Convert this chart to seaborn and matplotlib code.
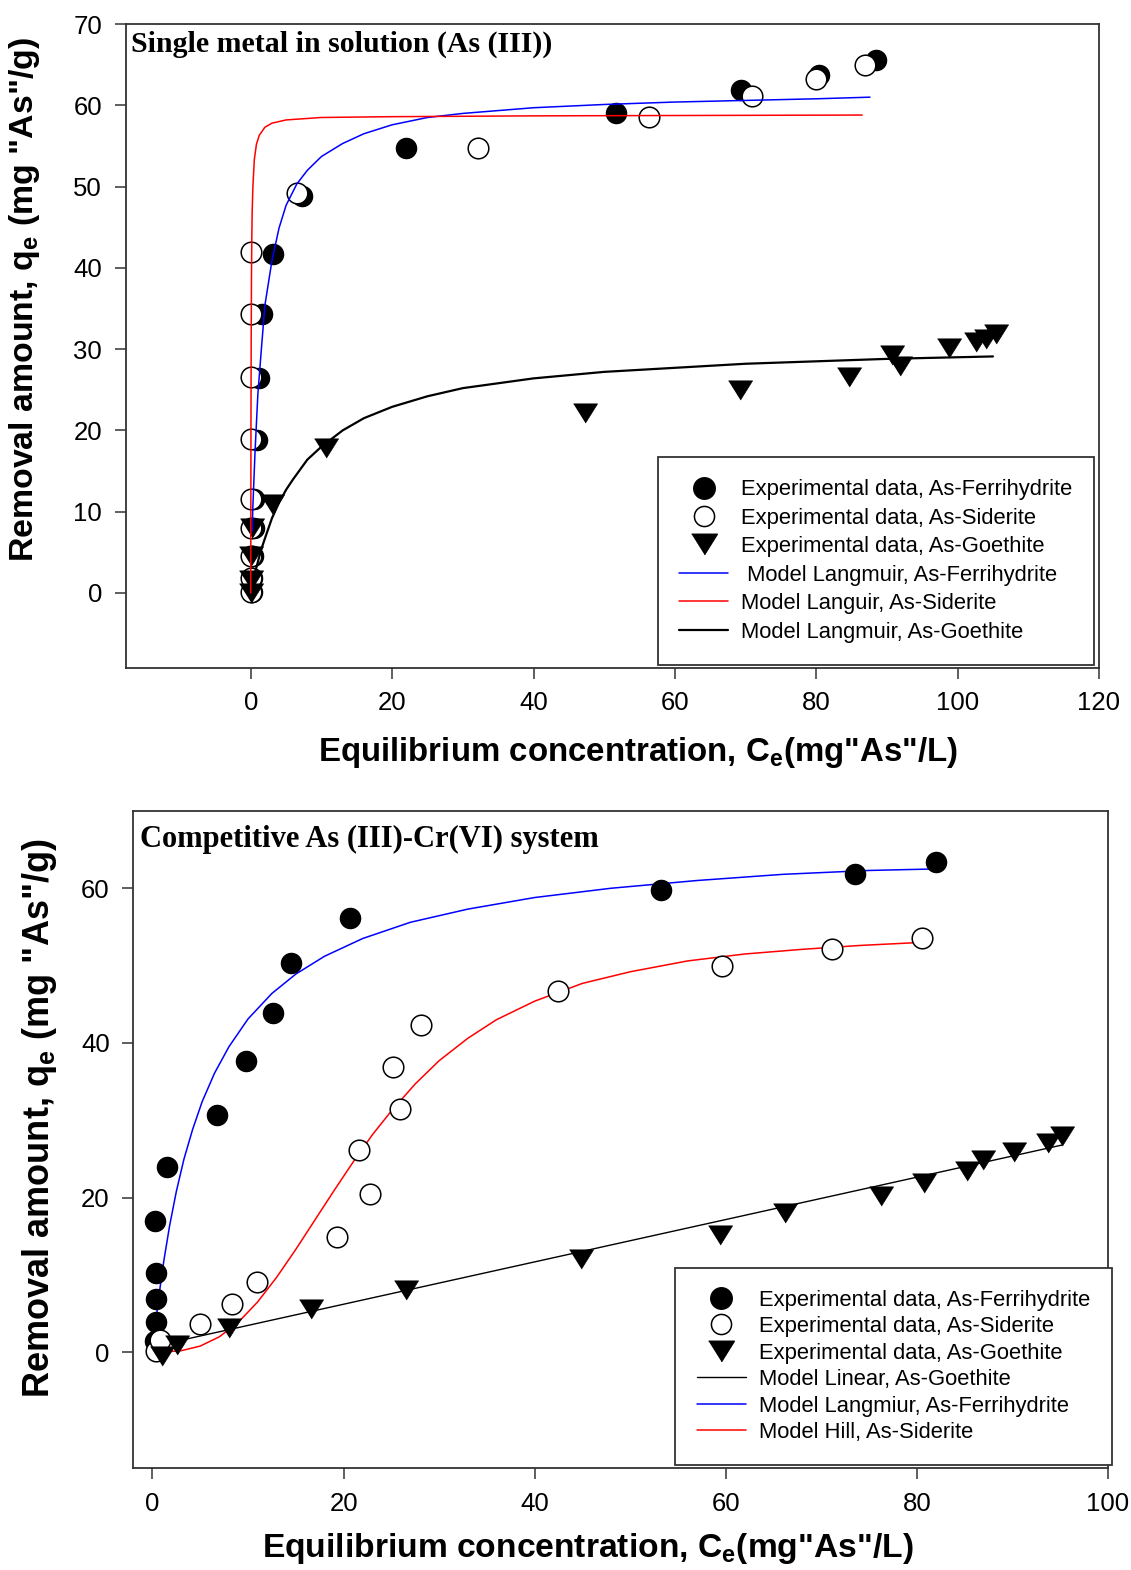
import numpy as np
import pandas as pd
import matplotlib
matplotlib.use("Agg")
import matplotlib.pyplot as plt
import seaborn as sns
from matplotlib.lines import Line2D

# ---------------- Top panel: single metal (As(III)) ----------------
top_ferri_x = [0.2, 0.2, 0.3, 0.4, 0.5, 0.9, 1.1, 1.6, 3.1, 7.3, 21.9, 51.7, 69.3, 80.4, 88.4]
top_ferri_y = [0.1, 1.8, 4.6, 8.0, 11.5, 18.8, 26.5, 34.3, 41.7, 48.8, 54.8, 59.0, 61.9, 63.7, 65.6]
top_sider_x = [0.0, 0.0, 0.0, 0.0, 0.0, 0.0, 0.0, 0.0, 0.0, 6.5, 32.1, 56.4, 70.9, 80.0, 86.9]
top_sider_y = [0.1, 1.8, 4.6, 8.0, 11.5, 18.9, 26.6, 34.3, 42.0, 49.2, 54.8, 58.6, 61.2, 63.2, 65.0]
top_goe_x = [0.1, 0.1, 0.1, 0.2, 3.0, 10.7, 47.3, 69.2, 84.7, 90.7, 91.8, 98.8, 102.6, 104.0, 105.4]
top_goe_y = [0.0, 1.6, 4.6, 8.0, 10.9, 17.8, 22.1, 25.0, 26.6, 29.3, 27.9, 30.1, 30.9, 31.3, 31.8]

# model curves
top_blue_x = [0.2, 0.3, 0.6, 1.0, 1.5, 2.0, 3.0, 4.0, 5.0, 6.5, 8.0, 10.0, 13.0, 16.0, 20.0, 25.0, 30.0, 40.0, 50.0, 60.0, 70.0, 80.0, 87.6]
top_blue_y = [7.6, 10.7, 17.3, 24.4, 30.0, 35.4, 40.9, 44.9, 47.7, 50.3, 52.0, 53.7, 55.3, 56.5, 57.6, 58.5, 59.0, 59.7, 60.1, 60.4, 60.6, 60.8, 61.0]
top_red_x = [0.0, 0.01, 0.03, 0.06, 0.1, 0.15, 0.2, 0.3, 0.5, 0.8, 1.2, 2.0, 3.0, 5.0, 10.0, 20.0, 40.0, 86.5]
top_red_y = [0.0, 9.4, 21.2, 31.3, 38.8, 43.9, 46.9, 50.0, 53.3, 55.2, 56.3, 57.3, 57.8, 58.2, 58.5, 58.6, 58.7, 58.8]
top_black_x = [0.3, 0.6, 1.0, 1.5, 2.0, 3.0, 4.0, 5.0, 6.0, 8.0, 10.0, 13.0, 16.0, 20.0, 25.0, 30.0, 40.0, 50.0, 60.0, 70.0, 80.0, 90.0, 105.0]
top_black_y = [1.3, 2.5, 3.8, 5.4, 6.7, 9.2, 11.1, 12.7, 14.0, 16.4, 18.0, 20.0, 21.5, 22.9, 24.2, 25.2, 26.4, 27.2, 27.7, 28.2, 28.5, 28.8, 29.1]

# ---------------- Bottom panel: competitive As(III)-Cr(VI) ----------------
bot_ferri_x = [0.3, 0.4, 0.4, 0.4, 0.3, 1.5, 6.8, 9.8, 12.6, 14.5, 20.7, 53.2, 73.5, 82.0]
bot_ferri_y = [1.5, 3.9, 6.9, 10.2, 17.0, 24.0, 30.7, 37.6, 43.9, 50.3, 56.2, 59.8, 61.9, 63.4]
bot_sider_x = [0.4, 0.8, 5.0, 8.3, 10.9, 19.3, 22.8, 21.6, 25.9, 25.2, 28.1, 42.4, 59.6, 71.1, 80.5]
bot_sider_y = [0.1, 1.6, 3.6, 6.3, 9.1, 14.9, 20.4, 26.1, 31.5, 36.9, 42.3, 46.7, 49.9, 52.1, 53.6]
bot_goe_x = [1.0, 2.6, 8.0, 16.6, 26.5, 44.8, 59.4, 66.2, 76.2, 80.7, 85.2, 86.9, 90.2, 93.7, 95.2]
bot_goe_y = [-0.5, 1.0, 3.2, 5.6, 8.0, 12.0, 15.2, 18.0, 20.2, 21.9, 23.4, 24.9, 25.9, 27.1, 27.9]

bot_black_x = [1.7, 95.2]
bot_black_y = [1.2, 26.8]
bot_blue_x = [0.42, 0.8, 1.2, 1.8, 2.5, 3.3, 4.2, 5.2, 6.5, 8.0, 10.0, 12.5, 15.0, 18.0, 22.0, 27.0, 33.0, 40.0, 48.0, 57.0, 66.0, 75.0, 82.0]
bot_blue_y = [4.7, 8.4, 11.9, 16.4, 20.8, 25.0, 28.8, 32.4, 36.1, 39.5, 43.1, 46.4, 48.9, 51.2, 53.5, 55.6, 57.3, 58.8, 60.0, 61.0, 61.8, 62.3, 62.5]
bot_red_x = [0.8, 3.0, 5.0, 7.0, 9.0, 11.0, 13.0, 15.0, 17.0, 19.0, 21.0, 23.0, 25.0, 27.5, 30.0, 33.0, 36.0, 40.0, 45.0, 50.0, 56.0, 62.0, 68.0, 74.0, 80.5]
bot_red_y = [0.0, 0.2, 0.8, 2.0, 3.9, 6.5, 9.7, 13.3, 17.1, 20.9, 24.6, 28.1, 31.2, 34.7, 37.7, 40.6, 43.0, 45.4, 47.7, 49.2, 50.6, 51.5, 52.1, 52.6, 53.0]

top_labels = ["Experimental data, As-Ferrihydrite", "Experimental data, As-Siderite",
              "Experimental data, As-Goethite", " Model Langmuir, As-Ferrihydrite",
              "Model Languir, As-Siderite", "Model Langmuir, As-Goethite"]
bot_labels = ["Experimental data, As-Ferrihydrite", "Experimental data, As-Siderite",
              "Experimental data, As-Goethite", "Model Linear, As-Goethite",
              "Model Langmiur, As-Ferrihydrite", "Model Hill, As-Siderite"]

# ---------------- style ----------------
sns.set_style("ticks")
plt.rcParams['font.family'] = ['Liberation Sans', 'DejaVu Sans']
plt.rcParams['mathtext.fontset'] = 'custom'
plt.rcParams['mathtext.rm'] = 'Liberation Sans'
plt.rcParams['mathtext.bf'] = 'Liberation Sans:bold'
plt.rcParams['mathtext.it'] = 'Liberation Sans:italic'
for k in ['text.color', 'axes.labelcolor', 'xtick.labelcolor', 'ytick.labelcolor']:
    plt.rcParams[k] = 'black'

TRI = [(-1.0, 0.8), (1.0, 0.8), (0.0, -0.8)]
SPINE = '#333333'

fig = plt.figure(figsize=(11.31, 15.70), dpi=100)
ax1 = fig.add_axes([0.1111, 0.5747, 0.8606, 0.4100])
ax2 = fig.add_axes([0.1179, 0.0648, 0.8618, 0.4187])


def scatter_sets(ax, fx, fy, sx, sy, gx, gy):
    sns.scatterplot(x=fx, y=fy, ax=ax, marker='o', s=210, color='black',
                    edgecolor='black', linewidth=1.0, zorder=3, legend=False)
    sns.scatterplot(x=sx, y=sy, ax=ax, marker='o', s=220, color='white',
                    edgecolor='black', linewidth=1.1, zorder=4, legend=False)
    sns.scatterplot(x=gx, y=gy, ax=ax, marker=TRI, s=300, color='black',
                    edgecolor='black', linewidth=0.5, zorder=5, legend=False)


def line(ax, x, y, color, lw, z):
    sns.lineplot(x=x, y=y, ax=ax, color=color, lw=lw, sort=False,
                 estimator=None, legend=False, zorder=z)


def style_axes(ax, xlim, ylim, xticks, yticks):
    ax.set_xlim(*xlim)
    ax.set_ylim(*ylim)
    ax.set_xticks(xticks)
    ax.set_yticks(yticks)
    for sp in ax.spines.values():
        sp.set_visible(True)
        sp.set_color(SPINE)
        sp.set_linewidth(1.3)
    ax.tick_params(axis='both', direction='out', length=8, width=1.1,
                   color=SPINE, labelcolor='black', labelsize=18.5, pad=9,
                   top=False, right=False)
    ax.set_xlabel('')
    ax.set_ylabel('')


def make_legend(ax, handles, labels, anchor, spacing):
    leg = ax.legend(handles, labels, loc='lower right', bbox_to_anchor=anchor,
                    fontsize=15.8, frameon=True, fancybox=False, shadow=False,
                    borderpad=1.0, labelspacing=spacing, handlelength=2.2,
                    handletextpad=0.6, borderaxespad=0.0)
    fr = leg.get_frame()
    fr.set_edgecolor(SPINE)
    fr.set_linewidth(1.3)
    fr.set_alpha(1)
    leg.set_zorder(10)
    return leg


# ---- top panel ----
scatter_sets(ax1, top_ferri_x, top_ferri_y, top_sider_x, top_sider_y, top_goe_x, top_goe_y)
line(ax1, top_blue_x, top_blue_y, '#0000ff', 1.1, 6)
line(ax1, top_red_x, top_red_y, '#ff0000', 1.1, 6)
line(ax1, top_black_x, top_black_y, 'black', 1.6, 6)
style_axes(ax1, (-17.7, 120), (-9.2, 70), range(0, 121, 20), range(0, 71, 10))
ax1.text(0.005, 0.99, 'Single metal in solution (As (III))', transform=ax1.transAxes,
         ha='left', va='top', fontsize=21.5, fontweight='bold', family='Liberation Serif')

h_top = [
    Line2D([], [], ls='none', marker='o', ms=15.5, mfc='black', mec='black'),
    Line2D([], [], ls='none', marker='o', ms=14.5, mfc='white', mec='black', mew=1.1),
    Line2D([], [], ls='none', marker=TRI, ms=18.5, mfc='black', mec='black'),
    Line2D([], [], color='#0000ff', lw=1.1),
    Line2D([], [], color='#ff0000', lw=1.1),
    Line2D([], [], color='black', lw=1.6),
]
make_legend(ax1, h_top, top_labels, (0.995, 0.005), 0.34)

# ---- bottom panel ----
line(ax2, bot_black_x, bot_black_y, 'black', 1.0, 2)
line(ax2, bot_blue_x, bot_blue_y, '#0000ff', 1.1, 2)
line(ax2, bot_red_x, bot_red_y, '#ff0000', 1.1, 2)
scatter_sets(ax2, bot_ferri_x, bot_ferri_y, bot_sider_x, bot_sider_y, bot_goe_x, bot_goe_y)
style_axes(ax2, (-2.0, 100), (-15, 70), range(0, 101, 20), range(0, 61, 20))
ax2.text(0.007, 0.978, 'Competitive As (III)-Cr(VI) system', transform=ax2.transAxes,
         ha='left', va='top', fontsize=22, fontweight='bold', family='Liberation Serif')

h_bot = [
    Line2D([], [], ls='none', marker='o', ms=15.5, mfc='black', mec='black'),
    Line2D([], [], ls='none', marker='o', ms=14.5, mfc='white', mec='black', mew=1.1),
    Line2D([], [], ls='none', marker=TRI, ms=18.5, mfc='black', mec='black'),
    Line2D([], [], color='black', lw=1.0),
    Line2D([], [], color='#0000ff', lw=1.1),
    Line2D([], [], color='#ff0000', lw=1.1),
]
make_legend(ax2, h_bot, bot_labels, (1.004, 0.005), 0.25)

# axis labels
xl = r'Equilibrium concentration, $\mathbf{C_e}$(mg"As"/L)'
yl = r'Removal amount, $\mathbf{q_e}$ (mg "As"/g)'
fig.text(638 / 1131, 1 - 753 / 1570, xl, ha='center', va='center', fontsize=23.8, fontweight='bold')
fig.text(25 / 1131, 1 - 300 / 1570, yl, ha='center', va='center', fontsize=24.4, fontweight='bold', rotation=90)
fig.text(588 / 1131, 1 - 1548 / 1570, xl, ha='center', va='center', fontsize=24.2, fontweight='bold')
fig.text(40 / 1131, 1 - 1118 / 1570, yl, ha='center', va='center', fontsize=26, fontweight='bold', rotation=90)

fig.savefig('out.png', dpi=100)
